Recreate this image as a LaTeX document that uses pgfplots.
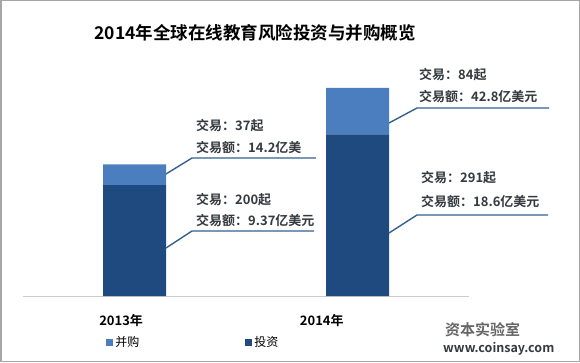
\documentclass[border=0pt]{standalone}
\usepackage{pgfplots}
\pgfplotsset{compat=1.18}
\usepackage{fontspec}
\setmainfont{Noto Sans CJK SC}[BoldFont={Noto Sans CJK SC Bold}]
\definecolor{darkbar}{HTML}{1F4A80}
\definecolor{lightbar}{HTML}{4A7EBF}
\definecolor{leader}{HTML}{34608F}
\definecolor{txt}{HTML}{353A40}
\begin{document}
\begin{tikzpicture}[x=1pt,y=1pt]
\useasboundingbox (0,0) rectangle (580,362);
\fill[white] (0,0) rectangle (580,362);
\draw[gray!70, line width=1.5pt] (0.75,0.75) rectangle (579.25,361.25);
\begin{axis}[
  at={(23pt,66pt)}, anchor=south west,
  scale only axis, width=446pt, height=222pt,
  xmin=-0.5, xmax=1.5, ymin=0, ymax=400,
  ybar stacked, bar width=63pt,
  axis y line=none, axis x line*=bottom,
  x axis line style={-, draw=gray!40, line width=1pt},
  xtick={-0.06,0.84}, xticklabels={2013年,2014年},
  major tick length=0pt,
  xticklabel style={font=\bfseries\fontsize{13}{15}\selectfont, anchor=center, yshift=-25pt, text=black},
  ytick=\empty,
  reverse legend,
  legend style={at={(rel axis cs:0.18,-0.21)}, anchor=west, draw=none, fill=none,
    font=\fontsize{12}{14}\selectfont, legend columns=2,
    /tikz/every even column/.append style={column sep=104pt}},
  legend image code/.code={\fill[#1,draw=none] (0pt,-3.5pt) rectangle (7pt,3.5pt);},
]
\addplot[fill=darkbar, draw=none] coordinates {(0,200) (1,291)};
\addlegendentry{投资}
\addplot[fill=lightbar, draw=none] coordinates {(0,37) (1,84)};
\addlegendentry{并购}
\end{axis}
% title
\node[font=\bfseries\fontsize{17.5}{20}\selectfont, text=black] at (255,329) {2014年全球在线教育风险投资与并购概览};
% leader lines
\draw[leader, line width=1.4pt] (166,188) -- (192,204) -- (316,204);
\draw[leader, line width=1.4pt] (166,114) -- (192,131) -- (314,131);
\draw[leader, line width=1.4pt] (389,239) -- (417,254) -- (549,254);
\draw[leader, line width=1.4pt] (389,129) -- (417,147) -- (548,147);
% annotations
\begin{scope}[every node/.style={anchor=west, inner sep=0pt, font=\bfseries\fontsize{13}{15}\selectfont, text=txt}]
\node at (196,236) {交易：37起};
\node at (196,214) {交易额：14.2亿美};
\node at (196,162) {交易：200起};
\node at (196,141) {交易额：9.37亿美元};
\node at (419,287) {交易：84起};
\node at (419,265) {交易额：42.8亿美元};
\node at (421,184) {交易：291起};
\node at (421,160) {交易额：18.6亿美元};
\end{scope}
% watermark
\node[anchor=west, inner sep=0pt, font=\bfseries\fontsize{15}{17}\selectfont, text=gray!80!black] at (445,32) {资本实验室};
\node[anchor=west, inner sep=0pt, font=\bfseries\fontsize{12.5}{14}\selectfont, text=txt] at (443,13) {www.coinsay.com};
\end{tikzpicture}
\end{document}
